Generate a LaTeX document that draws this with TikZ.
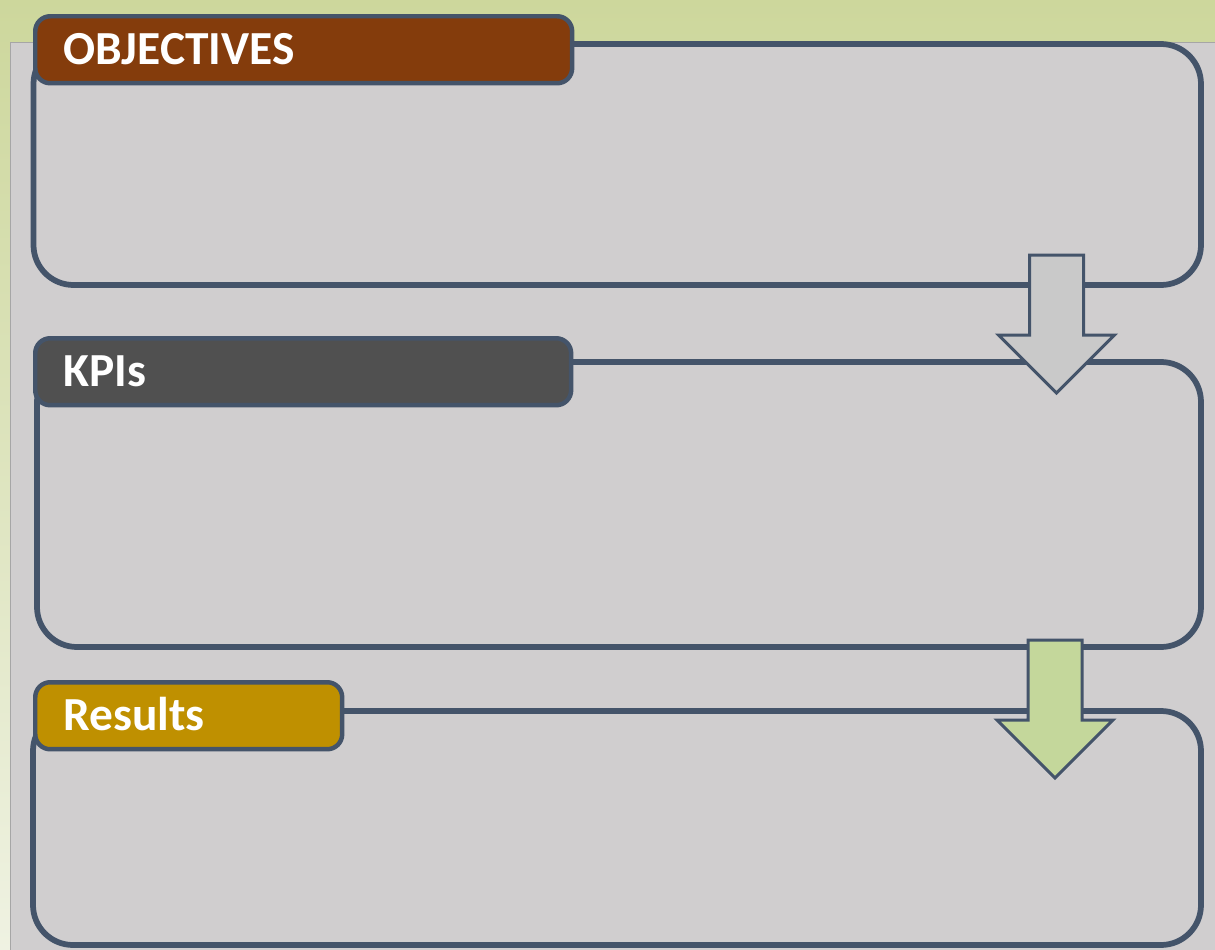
\documentclass[tikz,border=0pt]{standalone}
\usepackage{fontspec}
\setsansfont{Carlito}
\usepackage{xcolor}
\usetikzlibrary{positioning,fit,calc}

\definecolor{bgtop}{HTML}{CDD79C}
\definecolor{bgbot}{HTML}{EFF2E2}
\definecolor{panelgray}{HTML}{D0CECF}
\definecolor{slate}{HTML}{44546A}
\definecolor{objbrown}{HTML}{843C0C}
\definecolor{kpigray}{HTML}{505050}
\definecolor{resgold}{HTML}{BF9000}
\definecolor{arrgray}{HTML}{C9C9C9}
\definecolor{arrgreen}{HTML}{C4D79B}

% block arrow pointing down, from top middle of its shaft
\newcommand{\dnarrow}[2]{%
  \draw[blk, fill=#2] (#1) ++(-27,0) -- ++(54,0) -- ++(0,80) -- ++(31,0)
    -- ++(-58,58) -- ++(-58,-58) -- ++(31,0) -- cycle;}

\begin{document}
\begin{tikzpicture}[
  x=0.02cm, y=-0.02cm,
  box/.style={draw=slate, line width=0.115cm, rounded corners=0.8cm,
              fill=panelgray, inner sep=0pt},
  hdr/.style={draw=slate, line width=0.09cm, rounded corners=0.3cm, anchor=north west,
              text=white, font=\sffamily\bfseries\fontsize{27}{30}\selectfont,
              align=left, text width=#1, inner xsep=0.56cm, inner ysep=0pt,
              minimum height=1.34cm, text height=0.6cm, text depth=0pt},
  blk/.style={draw=slate, line width=0.6mm, line join=miter}
]
% background and panel
\shade[top color=bgtop, bottom color=bgbot] (0,0) rectangle (1215,950);
\useasboundingbox (0,0) rectangle (1215,950);
\filldraw[fill=panelgray, draw=black!35, line width=0.5pt] (10,42) rectangle (1217,952);

% frames
\node[box, fit={(33.5,44) (1201,285)}] (obj) {};
\node[box, fit={(37,362) (1201,647)}] (kpi) {};
\node[box, fit={(33,711) (1201,945)}] (res) {};

% headers
\node[hdr=9.62cm, fill=objbrown] (objhdr) at (33,14) {OBJECTIVES};
\node[hdr=9.6cm, fill=kpigray] (kpihdr) at (33,336) {KPIs};
\node[hdr=5.02cm, fill=resgold] (reshdr) at (33,680) {Results};

% arrows between frames
\coordinate (a1) at (1056.5,255);
\coordinate (a2) at (1055,640);
\dnarrow{a1}{arrgray}
\dnarrow{a2}{arrgreen}
\end{tikzpicture}
\end{document}
